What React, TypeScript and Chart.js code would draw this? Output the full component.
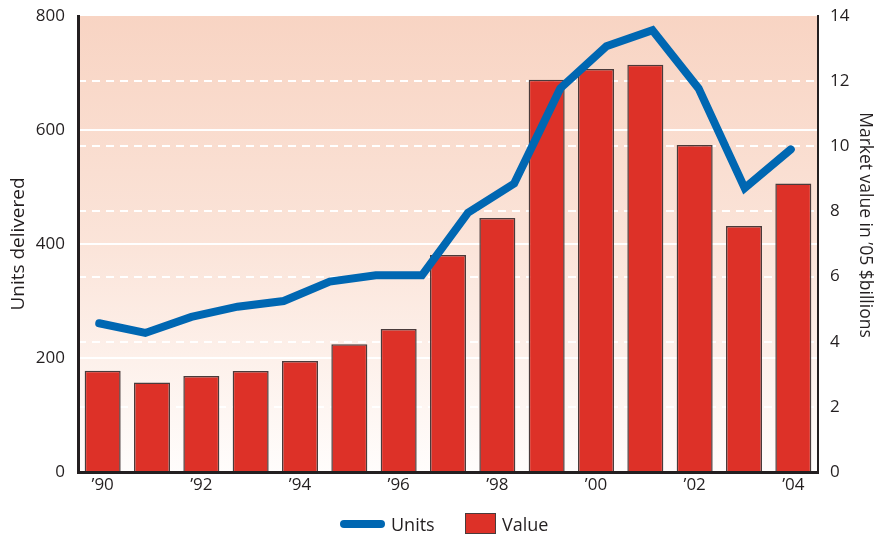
import React, { useEffect, useRef } from 'react';
import { Chart, registerables } from 'chart.js';

Chart.register(...registerables);

// ---- data ----
const years = ['’90', '’91', '’92', '’93', '’94', '’95', '’96', '’97', '’98', '’99', '’00', '’01', '’02', '’03', '’04'];
const valueBillions = [3.11, 2.75, 2.95, 3.1, 3.41, 3.92, 4.39, 6.66, 7.8, 12.04, 12.37, 12.5, 10.04, 7.55, 8.86];
const unitsDelivered = [261, 244, 272, 290, 300, 334, 345, 345, 455, 506, 673, 747, 775, 673, 498, 566];
const unitsTickStep = 200;
const unitsMax = 800;
const valueTickStep = 2;
const valueMax = 14;
const unitsTitle = 'Units delivered';
const valueTitle = 'Market value in ’05 $billions';

const FONT = '"Open Sans", sans-serif';
const TEXT = '#231f20';
const RED = '#dd3128';
const RED_BORDER = '#4a3b3b';
const BLUE = '#0067b2';

const bgPlugin = {
  id: 'plotBg',
  beforeDraw(chart: any) {
    const { ctx, chartArea: a } = chart;
    const g = ctx.createLinearGradient(0, a.top, 0, a.bottom);
    g.addColorStop(0, '#f8d4c3');
    g.addColorStop(0.5, '#fbe4d9');
    g.addColorStop(1, '#fffdfc');
    ctx.save();
    ctx.fillStyle = g;
    ctx.fillRect(a.left, a.top, a.right - a.left, a.bottom - a.top);
    ctx.restore();
  },
};

// right-axis title, rotated clockwise, sitting a little above the axis middle
const rightTitlePlugin = {
  id: 'rightTitle',
  afterDraw(chart: any) {
    const { ctx, chartArea: a } = chart;
    const s = chart.scales.y1;
    ctx.save();
    ctx.translate(s.right - 21, (a.top + a.bottom) / 2 - 19);
    ctx.rotate(Math.PI / 2);
    ctx.font = `17.5px ${FONT}`;
    ctx.fillStyle = TEXT;
    ctx.textAlign = 'center';
    ctx.textBaseline = 'middle';
    ctx.fillText(valueTitle, 0, 0);
    ctx.restore();
  },
};

export default function App() {
  const ref = useRef<HTMLCanvasElement | null>(null);

  useEffect(() => {
    if (!ref.current) return;
    const chart = new Chart(ref.current, {
      type: 'bar',
      data: {
        labels: years,
        datasets: [
          {
            type: 'line',
            label: 'Units',
            data: unitsDelivered.map((y, i) => ({ x: i, y })),
            xAxisID: 'xLine',
            yAxisID: 'y',
            borderColor: BLUE,
            borderWidth: 8,
            pointRadius: 0,
            borderCapStyle: 'round',
            borderJoinStyle: 'miter',
            tension: 0,
            order: 1,
          } as any,
          {
            type: 'bar',
            label: 'Value',
            data: valueBillions,
            xAxisID: 'x',
            yAxisID: 'y1',
            backgroundColor: RED,
            borderColor: RED_BORDER,
            borderWidth: 1.5,
            barPercentage: 0.73,
            categoryPercentage: 1,
            grouped: false,
            order: 2,
          } as any,
        ],
      },
      options: {
        animation: false,
        responsive: false,
        layout: { padding: { top: 16, bottom: 36, left: 0, right: 0 } },
        plugins: { legend: { display: false }, tooltip: { enabled: false } },
        scales: {
          x: {
            type: 'category',
            offset: true,
            grid: { display: false, drawTicks: false },
            border: { display: true, color: TEXT, width: 3 },
            ticks: {
              autoSkip: false,
              maxRotation: 0,
              padding: 3,
              color: TEXT,
              font: { family: FONT, size: 17 },
              callback: (_v: any, i: number) => (i % 2 === 0 ? years[i] : ''),
            },
            afterFit: (s: any) => {
              s.height = 30;
              s.paddingLeft = 0;
              s.paddingRight = 0;
            },
          },
          xLine: {
            type: 'linear',
            display: false,
            offset: false,
            grid: { offset: false },
            min: -0.46,
            max: 15.59,
          },
          y: {
            position: 'left',
            min: 0,
            max: unitsMax,
            ticks: { stepSize: unitsTickStep, padding: 13, color: TEXT, font: { family: FONT, size: 17 } },
            grid: {
              color: (c: any) => (c.tick && (c.tick.value === 0 || c.tick.value === unitsMax) ? 'rgba(0,0,0,0)' : '#ffffff'),
              lineWidth: 2,
              drawTicks: false,
            },
            border: { display: true, color: TEXT, width: 3 },
            title: {
              display: true,
              text: unitsTitle,
              color: TEXT,
              font: { family: FONT, size: 19 },
              padding: { top: 7, bottom: 0 },
            },
            afterFit: (s: any) => {
              s.width = 78;
              s.paddingTop = 0;
              s.paddingBottom = 0;
            },
          },
          y1: {
            position: 'right',
            min: 0,
            max: valueMax,
            ticks: { stepSize: valueTickStep, padding: 12, color: TEXT, font: { family: FONT, size: 17 } },
            grid: {
              color: (c: any) => (c.tick && (c.tick.value === 0 || c.tick.value === valueMax) ? 'rgba(0,0,0,0)' : '#ffffff'),
              lineWidth: 2,
              drawTicks: false,
            },
            border: { display: true, color: TEXT, width: 2, dash: [8, 6] },
            title: { display: false },
            afterFit: (s: any) => {
              s.width = 68;
              s.paddingTop = 0;
              s.paddingBottom = 0;
            },
          },
        },
      } as any,
      plugins: [bgPlugin, rightTitlePlugin],
    });
    return () => chart.destroy();
  }, []);

  const textStyle: React.CSSProperties = {
    position: 'absolute',
    top: 511,
    height: 26,
    lineHeight: '26px',
    fontFamily: FONT,
    fontSize: 18,
    color: TEXT,
    whiteSpace: 'nowrap',
  };

  return (
    <div style={{ position: 'fixed', left: 0, top: 0, width: 886, height: 538, background: '#ffffff' }}>
      <canvas ref={ref} width={886} height={538} style={{ display: 'block', width: 886, height: 538 }} />
      <div
        style={{
          position: 'absolute',
          left: 340,
          top: 520,
          width: 45,
          height: 8,
          borderRadius: 4,
          background: BLUE,
        }}
      />
      <span style={{ ...textStyle, left: 391 }}>Units</span>
      <div
        style={{
          position: 'absolute',
          left: 465,
          top: 513,
          width: 31,
          height: 21,
          boxSizing: 'border-box',
          background: RED,
          border: `1.5px solid ${RED_BORDER}`,
        }}
      />
      <span style={{ ...textStyle, left: 502 }}>Value</span>
    </div>
  );
}
